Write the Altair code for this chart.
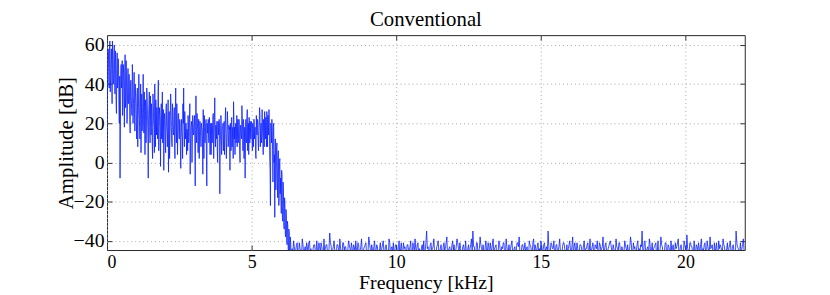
import altair as alt
import numpy as np
import pandas as pd

title_text = "Conventional"
x_title = "Frequency [kHz]"
y_title = "Amplitude [dB]"
x_ticks = [0, 5, 10, 15, 20]
y_ticks = [-40, -20, 0, 20, 40, 60]
x_domain = [0, 22.05]
y_domain = [-44.7, 65]

# pass band, bins at 0, 0.025, ... 6.375 kHz
band_start = 0.0
band_step = 0.025
band_db = [
    10, 48, 55, 38, 62, 44, 58, 30, 52, 40, 60, 35, 50, 25, 56, 42, 47, 20, -8, 45,
    38, 52, 28, 45, 18, 55, 33, 40, 22, 48, 30, 36, 15, 42, 27, 50, 20, 34, 25, 40,
    30, 12, 38, 22, 45, 18, 28, 5, 35, 20, 45, 15, 26, 32, 10, 38, 24, -8, 30, 18,
    34, 14, 25, 2, 30, 18, 40, 8, 22, 28, 12, 42, 15, 24, -2, 30, 18, 10, 27, 16,
    22, 5, 30, 15, 20, -5, 26, 12, 35, 18, 8, 24, 14, 28, 2, 38, 10, 22, 16, 25,
    12, 20, -3, 22, 14, 30, 38, 8, 18, 20, 4, 16, 24, 10, 22, -6, 18, 21, 12, 20,
    15, 24, -12, 34, 10, 20, 5, 22, 16, 19, 8, 18, 12, 27, 2, 20, 14, 22, -12, 15,
    22, 10, 20, 14, 4, 20, 18, 25, 12, 33, 8, 16, 21, 0, 18, 22, -16, 14, 19, 10,
    18, 6, 21, 12, 28, 2, 16, 20, 10, 17, -4, 14, 22, 8, 18, 31, 12, 4, 20, 14,
    8, 22, 16, 19, 0, 18, 12, 24, 6, 20, 14, -8, 22, 10, 27, 16, 4, 18, 21, 12,
    20, 6, 16, 22, 12, 18, 2, 18, 22, 10, 16, 28, 8, 20, 14, 19, 4, 18, 26, 12,
    18, 26, 8, 20, 27, 2, -22, 16, 22, 6, 18, 0, -28, 12, -4, 10, -18, 6, -20, 2,
    -8, -26, -6, -30, -14, -34, -20, -38, -26, -42, -32, -46, -36, -48, -41, -50,
]

# pass band, in-between bins at 0.0125, 0.0375, ... 6.3875 kHz
band_mid_start = 0.0125
band_mid_db = [
    30, 58, 42, 60, 36, 52, 48, 62, 40, 55, 45, 57, 32, 48, 38, 53, 28, 44, 15, 50,
    44, 24, 50, 35, 46, 28, 52, 20, 38, 30, 45, 22, 40, 33, 24, 44, 30, 46, 16, 35,
    20, 35, 8, 28, 32, 12, 40, 22, 16, 30, 25, 36, 4, 28, 20, 33, 14, 25, 36, 10,
    22, 30, 10, 35, 20, 5, 26, 32, 14, 18, 34, 6, 28, 20, 24, 12, 36, 22, -4, 25,
    12, 26, 18, 8, 32, 16, 2, 22, 28, 10, 30, 16, 20, 6, 26, 18, 30, 4, 24, 14,
    22, 8, 18, 14, 2, 20, 16, 26, 12, 20, 17, 6, 22, 16, 30, 10, 19, 0, 24, 14,
    20, 6, 17, 14, 25, 16, 22, 2, 21, 12, 20, 17, -6, 18, 24, 10, 20, 4, 20, 16,
    12, 23, 4, 20, 17, 10, 24, 2, 22, 16, 19, 12, 6, 21, 14, 20, 8, 24, 4, 18,
    20, 14, 4, 22, 16, 10, 26, 8, 19, 18, 20, 6, 23, 16, 2, 22, 18, 17, 10, 24,
    18, 10, 22, 4, 19, 14, 29, 16, 22, 2, 18, 15, 12, 24, 6, 20, 23, 10, 16, 21,
    14, 20, 8, 22, 18, 4, 24, 14, 21, 6, 20, 24, 16, 10, 27, 12, 22, 8, 20, 23,
    8, 22, 24, 14, 18, -4, 20, 10, 16, -10, 20, 4, 12, -14, 8, -8, 4, -22, 0, -16,
    -18, -4, -28, -10, -32, -18, -36, -24, -40, -30, -44, -34, -48, -38, -46, -50,
]

# noise floor, bins at 6.4, 6.45, ... 22.05 kHz
floor_start = 6.4
floor_step = 0.05
floor_db = [
    -44, -40, -46, -42, -48, -41, -45, -39, -47, -43, -41, -46, -40, -44, -49, -42, -45, -40, -47, -43,
    -41, -46, -39, -44, -42, -48, -36, -43, -45, -40, -47, -42, -44, -39, -46, -41, -45, -43, -48, -40,
    -44, -41, -47, -43, -40, -46, -42, -45, -39, -48, -43, -41, -46, -38, -44, -42, -47, -40, -45, -43,
    -46, -41, -44, -40, -48, -42, -45, -39, -47, -43, -41, -45, -42, -49, -40, -44, -46, -41, -43, -47,
    -42, -45, -40, -47, -43, -39, -46, -41, -44, -48, -42, -40, -45, -35, -43, -47, -41, -44, -39, -46,
    -43, -40, -46, -42, -48, -41, -44, -38, -45, -43, -47, -40, -42, -46, -39, -44, -41, -48, -43, -45,
    -40, -46, -42, -44, -39, -35, -43, -47, -41, -45, -38, -44, -42, -48, -40, -46, -43, -41, -45, -39,
    -44, -42, -47, -40, -45, -43, -41, -48, -39, -46, -42, -44, -40, -47, -43, -45, -41, -38, -46, -42,
    -45, -41, -44, -48, -40, -43, -46, -39, -42, -47, -41, -44, -40, -46, -42, -45, -43, -35, -47, -41,
    -44, -40, -46, -42, -45, -39, -47, -43, -41, -48, -42, -44, -40, -46, -38, -43, -45, -41, -47, -42,
    -43, -46, -40, -44, -42, -48, -39, -45, -41, -47, -43, -40, -46, -42, -44, -38, -45, -41, -48, -43,
    -40, -45, -42, -47, -39, -44, -41, -46, -43, -48, -40, -44, -42, -45, -38, -47, -41, -43, -46, -40,
    -44, -42, -35, -46, -40, -45, -43, -39, -47, -41, -44, -42, -48, -40, -46, -38, -43, -45, -41, -47,
    -42, -45, -40, -44, -47, -41, -43, -39, -46, -42, -48, -40, -44, -37, -45, -41, -43, -47, -40, -46,
    -43, -41, -46, -39, -44, -42, -47, -40, -45, -38, -43, -46, -41, -44, -48, -40, -42, -45, -39, -43,
    -46, -41, -44, -40, -47, -42, -45, -35, -43, -48, -41, -44, -39, -46,
]

# noise floor, in-between bins at 6.425, 6.475, ... 22.025 kHz
floor_mid_start = 6.425
floor_mid_db = [
    -47, -43, -45, -41, -46, -44, -48, -42, -45, -47, -43, -41, -46, -48, -44, -42, -47, -45, -41, -46,
    -43, -48, -45, -42, -46, -44, -41, -47, -43, -45, -48, -42, -46, -44, -47, -41, -43, -46, -45, -42,
    -46, -44, -42, -48, -45, -41, -47, -43, -46, -44, -42, -48, -45, -41, -47, -44, -43, -46, -42, -48,
    -44, -47, -42, -46, -43, -45, -48, -41, -44, -46, -47, -42, -45, -43, -48, -41, -46, -44, -47, -42,
    -45, -43, -48, -41, -46, -44, -42, -47, -45, -43, -46, -48, -41, -44, -47, -42, -45, -43, -46, -48,
    -42, -46, -44, -47, -43, -45, -41, -48, -44, -46, -42, -45, -47, -43, -41, -46, -44, -48, -42, -45,
    -46, -44, -47, -42, -45, -43, -48, -41, -46, -44, -42, -47, -45, -43, -46, -41, -48, -44, -42, -47,
    -43, -48, -45, -42, -46, -44, -41, -47, -43, -45, -48, -42, -46, -44, -47, -41, -43, -46, -45, -42,
    -44, -46, -43, -48, -42, -45, -41, -47, -44, -43, -46, -48, -42, -45, -41, -44, -47, -43, -46, -42,
    -44, -47, -42, -46, -43, -45, -48, -41, -44, -46, -47, -42, -45, -43, -48, -41, -46, -44, -47, -42,
    -46, -42, -47, -44, -41, -45, -48, -43, -46, -42, -44, -47, -41, -45, -43, -48, -42, -46, -44, -41,
    -42, -46, -44, -47, -43, -45, -41, -48, -44, -46, -42, -45, -47, -43, -41, -46, -44, -48, -42, -45,
    -47, -43, -45, -41, -46, -44, -48, -42, -45, -47, -43, -41, -46, -48, -44, -42, -47, -45, -41, -46,
    -43, -48, -45, -42, -46, -44, -41, -47, -43, -45, -48, -42, -46, -44, -47, -41, -43, -46, -45, -42,
    -46, -44, -42, -48, -45, -41, -47, -43, -46, -44, -42, -48, -45, -41, -47, -44, -43, -46, -42, -48,
    -44, -47, -42, -46, -43, -45, -48, -41, -44, -46, -47, -42, -45,
]

freq = np.concatenate([
    band_start + band_step * np.arange(len(band_db)),
    band_mid_start + band_step * np.arange(len(band_mid_db)),
    floor_start + floor_step * np.arange(len(floor_db)),
    floor_mid_start + floor_step * np.arange(len(floor_mid_db)),
])
db = band_db + band_mid_db + floor_db + floor_mid_db
df = pd.DataFrame({"freq": np.round(freq, 4), "db": db}).sort_values("freq").reset_index(drop=True)

FONT = "Liberation Serif"
x_scale = alt.Scale(domain=x_domain, nice=False, zero=False)
y_scale = alt.Scale(domain=y_domain, nice=False, zero=False)

base = alt.Chart(df)

line = base.mark_line(color="#0a1eff", strokeWidth=0.8, clip=True).encode(
    x=alt.X("freq:Q", scale=x_scale, axis=alt.Axis(
        orient="bottom", values=x_ticks, title=x_title, format="d",
        grid=True, gridDash=[1, 3], gridColor="#a8a8a8", gridWidth=1,
        tickSize=0, domain=False, labelPadding=4, titlePadding=1,
        labelFont=FONT, labelFontSize=18, labelColor="black",
        titleFont=FONT, titleFontSize=20, titleFontWeight="normal", titleColor="black")),
    y=alt.Y("db:Q", scale=y_scale, axis=alt.Axis(
        orient="left", values=y_ticks, title=y_title, format="d",
        grid=True, gridDash=[1, 3], gridColor="#a8a8a8", gridWidth=1,
        tickSize=0, domain=False, labelPadding=3, titlePadding=-3,
        labelFont=FONT, labelFontSize=20, labelColor="black",
        titleFont=FONT, titleFontSize=21, titleFontWeight="normal", titleColor="black")),
)

tick_axis = dict(labels=False, title=None, grid=False, domain=False,
                 tickSize=5, offset=-5, tickColor="#333333", tickWidth=1)

ticks_a = base.mark_line(opacity=0).encode(
    x=alt.X("freq:Q", scale=x_scale, axis=alt.Axis(orient="bottom", values=x_ticks, **tick_axis)),
    y=alt.Y("db:Q", scale=y_scale, axis=alt.Axis(orient="left", values=y_ticks, **tick_axis)),
)
ticks_b = base.mark_line(opacity=0).encode(
    x=alt.X("freq:Q", scale=x_scale, axis=alt.Axis(orient="top", values=x_ticks, **tick_axis)),
    y=alt.Y("db:Q", scale=y_scale, axis=alt.Axis(orient="right", values=y_ticks, **tick_axis)),
)

chart = alt.layer(line, ticks_a, ticks_b).resolve_axis(
    x="independent", y="independent"
).properties(
    width=644, height=217,
    padding={"left": 100, "top": 26, "right": 78, "bottom": 44},
    autosize=alt.AutoSizeParams(type="none"),
    title=alt.TitleParams(title_text, font=FONT, fontSize=21, fontWeight="normal",
                          color="black", anchor="middle", offset=5),
).configure_view(stroke="#262626", strokeWidth=1)

chart.save("out.html", embed_options={"renderer": "svg", "actions": False})
